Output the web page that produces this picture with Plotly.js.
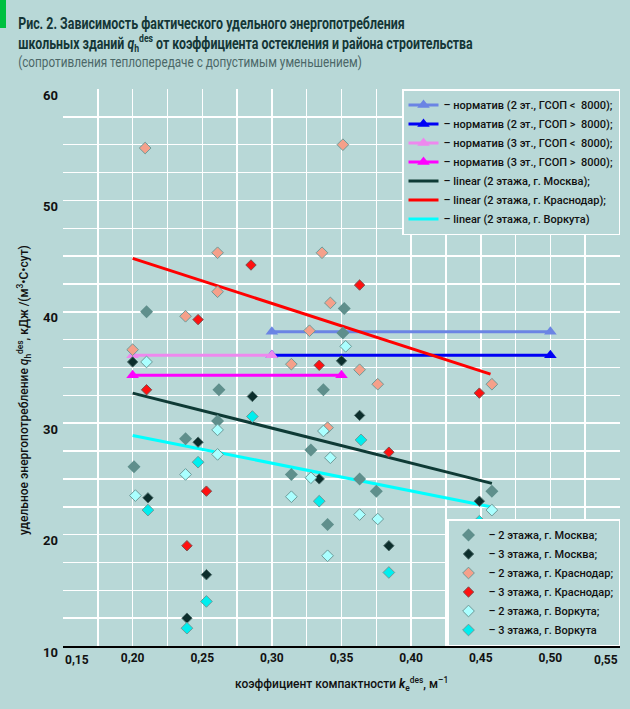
<!DOCTYPE html>
<html>
<head>
<meta charset="utf-8">
<script src="https://cdn.plot.ly/plotly-3.0.1.min.js"></script>
<style>
html,body{margin:0;padding:0;background:#b8d8d7;}
#chart{width:630px;height:709px;}
#bar{position:absolute;left:0;top:0;width:6px;height:28px;background:#00c040;z-index:10;}
</style>
</head>
<body>
<div id="bar"></div>
<div id="chart"></div>
<script>
// ---- data ----
const moscow2X = [0.210, 0.262, 0.261, 0.238, 0.201, 0.314, 0.328, 0.352, 0.351, 0.337, 0.363, 0.375, 0.340, 0.458];
const moscow2Y = [40.0, 33.0, 30.2, 28.6, 26.1, 25.4, 27.6, 40.3, 38.1, 33.0, 25.0, 23.9, 20.9, 23.9];

const moscow3X = [0.200, 0.286, 0.247, 0.211, 0.253, 0.239, 0.350, 0.363, 0.334, 0.384, 0.449];
const moscow3Y = [35.5, 32.4, 28.3, 23.3, 16.4, 12.5, 35.6, 30.7, 25.0, 19.0, 23.0];

const krasnodar2X = [0.209, 0.261, 0.261, 0.238, 0.327, 0.200, 0.314, 0.351, 0.336, 0.342, 0.363, 0.376, 0.458, 0.340];
const krasnodar2Y = [54.7, 45.3, 41.8, 39.6, 38.3, 36.6, 35.3, 55.0, 45.3, 40.8, 34.8, 33.5, 33.5, 29.6];

const krasnodar3X = [0.285, 0.247, 0.210, 0.253, 0.239, 0.363, 0.334, 0.449, 0.384];
const krasnodar3Y = [44.2, 39.3, 33.0, 23.9, 19.0, 42.4, 35.2, 32.7, 27.4];

const vorkuta2X = [0.210, 0.261, 0.261, 0.238, 0.202, 0.314, 0.353, 0.337, 0.342, 0.328, 0.363, 0.376, 0.340, 0.458];
const vorkuta2Y = [35.5, 29.4, 27.2, 25.4, 23.5, 23.4, 36.9, 29.3, 26.9, 25.1, 21.8, 21.4, 18.1, 22.2];

const vorkuta3X = [0.286, 0.247, 0.211, 0.253, 0.239, 0.364, 0.334, 0.384, 0.449];
const vorkuta3Y = [30.6, 26.5, 22.2, 14.0, 11.6, 28.5, 23.0, 16.6, 21.2];

// normative lines (endpoints)
const norm2LowX = [0.30, 0.50];  const norm2LowY = [38.2, 38.2];
const norm2HighX = [0.30, 0.50]; const norm2HighY = [36.1, 36.1];
const norm3LowX = [0.20, 0.30];  const norm3LowY = [36.1, 36.1];
const norm3HighX = [0.20, 0.35]; const norm3HighY = [34.3, 34.3];

// linear trend lines (endpoints)
const linMoscowX = [0.200, 0.458];    const linMoscowY = [32.7, 24.6];
const linKrasnodarX = [0.200, 0.457]; const linKrasnodarY = [44.8, 34.4];
const linVorkutaX = [0.200, 0.457];   const linVorkutaY = [28.9, 22.5];

const xTicks = [0.15, 0.20, 0.25, 0.30, 0.35, 0.40, 0.45, 0.50, 0.55];
const xTickText = ['0,15', '0,20', '0,25', '0,30', '0,35', '0,40', '0,45', '0,50', '0,55'];
const yTicks = [10, 20, 30, 40, 50, 60];

// ---- styling ----
const FONT = "Roboto, 'Liberation Sans', sans-serif";
const BG = '#b8d8d7';

function normTrace(x, y, name, color) {
  return {x: x, y: y, name: name, type: 'scatter', mode: 'lines+markers', legend: 'legend',
    line: {color: color, width: 3},
    marker: {symbol: 'triangle-up', size: 11, color: color, line: {width: 0}}};
}
function linTrace(x, y, name, color) {
  return {x: x, y: y, name: name, type: 'scatter', mode: 'lines', legend: 'legend',
    line: {color: color, width: 3}};
}
function ptTrace(x, y, name, color, size, outline) {
  return {x: x, y: y, name: name, type: 'scatter', mode: 'markers', legend: 'legend2',
    marker: {symbol: 'diamond', size: size, color: color,
      line: {color: outline, width: outline ? 1 : 0}}};
}

const traces = [
  normTrace(norm2LowX, norm2LowY, '– норматив (2 эт., ГСОП <  8000);', '#6b84e4'),
  normTrace(norm2HighX, norm2HighY, '– норматив (2 эт., ГСОП >  8000);', '#0000f5'),
  normTrace(norm3LowX, norm3LowY, '– норматив (3 эт., ГСОП <  8000);', '#ee88ee'),
  normTrace(norm3HighX, norm3HighY, '– норматив (3 эт., ГСОП >  8000);', '#ff00ff'),
  linTrace(linMoscowX, linMoscowY, '– linear (2 этажа, г. Москва);', '#0e3a35'),
  linTrace(linKrasnodarX, linKrasnodarY, '– linear (2 этажа, г. Краснодар);', '#ff0000'),
  linTrace(linVorkutaX, linVorkutaY, '– linear (2 этажа, г. Воркута)', '#00ffff'),
  ptTrace(moscow2X, moscow2Y, '– 2 этажа, г. Москва;', '#5f8f8c', 10, null),
  ptTrace(moscow3X, moscow3Y, '– 3 этажа, г. Москва;', '#0c2e2c', 8, '#4a6a68'),
  ptTrace(krasnodar2X, krasnodar2Y, '– 2 этажа, г. Краснодар;', '#f5a08a', 9, '#6e9a98'),
  ptTrace(krasnodar3X, krasnodar3Y, '– 3 этажа, г. Краснодар;', '#ff1010', 8, '#7a5050'),
  ptTrace(vorkuta2X, vorkuta2Y, '– 2 этажа, г. Воркута;', '#aaffff', 9, '#6e9a98'),
  ptTrace(vorkuta3X, vorkuta3Y, '– 3 этажа, г. Воркута', '#00eeee', 9, '#6e9a98')
];

const W = 557, L = 63, T = 89, B = 646;
function px2x(p){ return (p - L) / W; }
function py2y(p){ return (B - p) / W; }

const TICKFONT = {family: FONT, size: 12, weight: 'bold', color: '#111'};
const last = xTicks.length - 1;
// inner tick labels drawn by the axis; the two end labels are aligned to the plot edges
const axisTickText = xTickText.map(function(t, i){ return (i === 0 || i === last) ? '' : t; });
const edgeLabels = [
  {text: xTickText[0], xref: 'x', yref: 'paper', x: xTicks[0], y: py2y(660), xanchor: 'left', yanchor: 'middle',
   showarrow: false, font: TICKFONT},
  {text: xTickText[last], xref: 'x', yref: 'paper', x: xTicks[last], y: py2y(660), xanchor: 'right', yanchor: 'middle',
   showarrow: false, font: TICKFONT}
];

const layout = {
  width: 630, height: 709,
  margin: {l: 63, r: 10, t: 89, b: 63},
  paper_bgcolor: BG, plot_bgcolor: BG,
  separators: ', ',
  font: {family: FONT, size: 12, color: '#111'},
  showlegend: true,
  xaxis: {
    range: [0.15, 0.55], tickvals: xTicks, ticktext: axisTickText,
    showgrid: true, gridcolor: '#ffffff', gridwidth: 1.5,
    minor: {dtick: 0.025, tick0: 0.15, showgrid: true, gridcolor: '#ffffff', gridwidth: 1.5},
    showline: true, linecolor: '#000', linewidth: 2, zeroline: false,
    tickfont: TICKFONT,
    ticks: '', fixedrange: true
  },
  yaxis: {
    range: [10, 60], tickvals: yTicks,
    showgrid: true, gridcolor: '#ffffff', gridwidth: 1.5,
    minor: {dtick: 2.5, tick0: 10, showgrid: true, gridcolor: '#ffffff', gridwidth: 1.5},
    showline: false, zeroline: false,
    tickfont: {family: FONT, size: 13, weight: 'bold', color: '#111'},
    ticklabelstandoff: 4, ticklabelshift: 6,
    ticks: '', fixedrange: true
  },
  legend: {
    x: 1.0, y: 1.0, xanchor: 'right', yanchor: 'top',
    bgcolor: BG, bordercolor: '#ffffff', borderwidth: 1.5,
    font: {family: FONT, size: 11, weight: 500, color: '#111'},
    tracegroupgap: 0, itemwidth: 30
  },
  legend2: {
    x: 1.0, y: 0.0, xanchor: 'right', yanchor: 'bottom',
    bgcolor: BG, bordercolor: '#ffffff', borderwidth: 1.5,
    font: {family: FONT, size: 11, weight: 500, color: '#111'},
    tracegroupgap: 0, itemwidth: 30
  },
  annotations: [
    {text: 'Рис. 2. Зависимость фактического удельного энергопотребления',
     xref: 'paper', yref: 'paper', x: px2x(16), y: py2y(24), xanchor: 'left', yanchor: 'middle',
     showarrow: false, font: {family: FONT, size: 16, weight: 'bold', color: '#143636'}},
    {text: 'школьных зданий <i>q</i><sub>h</sub><sup>des</sup> от коэффициента остекления и района строительства',
     xref: 'paper', yref: 'paper', x: px2x(16), y: py2y(43), xanchor: 'left', yanchor: 'middle',
     showarrow: false, font: {family: FONT, size: 16, weight: 'bold', color: '#143636'}},
    {text: '(сопротивления теплопередаче с допустимым уменьшением)',
     xref: 'paper', yref: 'paper', x: px2x(16), y: py2y(62), xanchor: 'left', yanchor: 'middle',
     showarrow: false, font: {family: FONT, size: 15, color: '#4b6767'}},
    {text: 'удельное энергопотребление <i>q</i><sub>h</sub><sup>des</sup>, кДж /(м<sup>3</sup>•С•сут)',
     xref: 'paper', yref: 'paper', x: px2x(24), y: py2y(390), xanchor: 'center', yanchor: 'middle',
     textangle: -90, showarrow: false, font: {family: FONT, size: 12, weight: 500, color: '#111'}},
    {text: 'коэффициент компактности <i><b>k</b></i><sub>e</sub><sup>des</sup>, м<sup>–1</sup>',
     xref: 'paper', yref: 'paper', x: 0.5, y: py2y(684), xanchor: 'center', yanchor: 'middle',
     showarrow: false, font: {family: FONT, size: 12, weight: 500, color: '#111'}}
  ].concat(edgeLabels)
};

// target rendered widths (px) of the three title lines, to mimic the condensed face
const titleWidths = [387, 455, 344];

Plotly.newPlot('chart', traces, layout, {staticPlot: true, displayModeBar: false}).then(function(gd){
  const anns = gd.querySelectorAll('g.annotation');
  titleWidths.forEach(function(tw, i){
    const t = anns[i] && anns[i].querySelector('text');
    if (!t) return;
    const w = t.getBBox().width;
    if (w > 0) {
      const s = tw / w;
      t.style.transformBox = 'fill-box';
      t.style.transformOrigin = 'left center';
      t.style.transform = 'scaleX(' + s.toFixed(3) + ')';
    }
  });
});
</script>
</body>
</html>
